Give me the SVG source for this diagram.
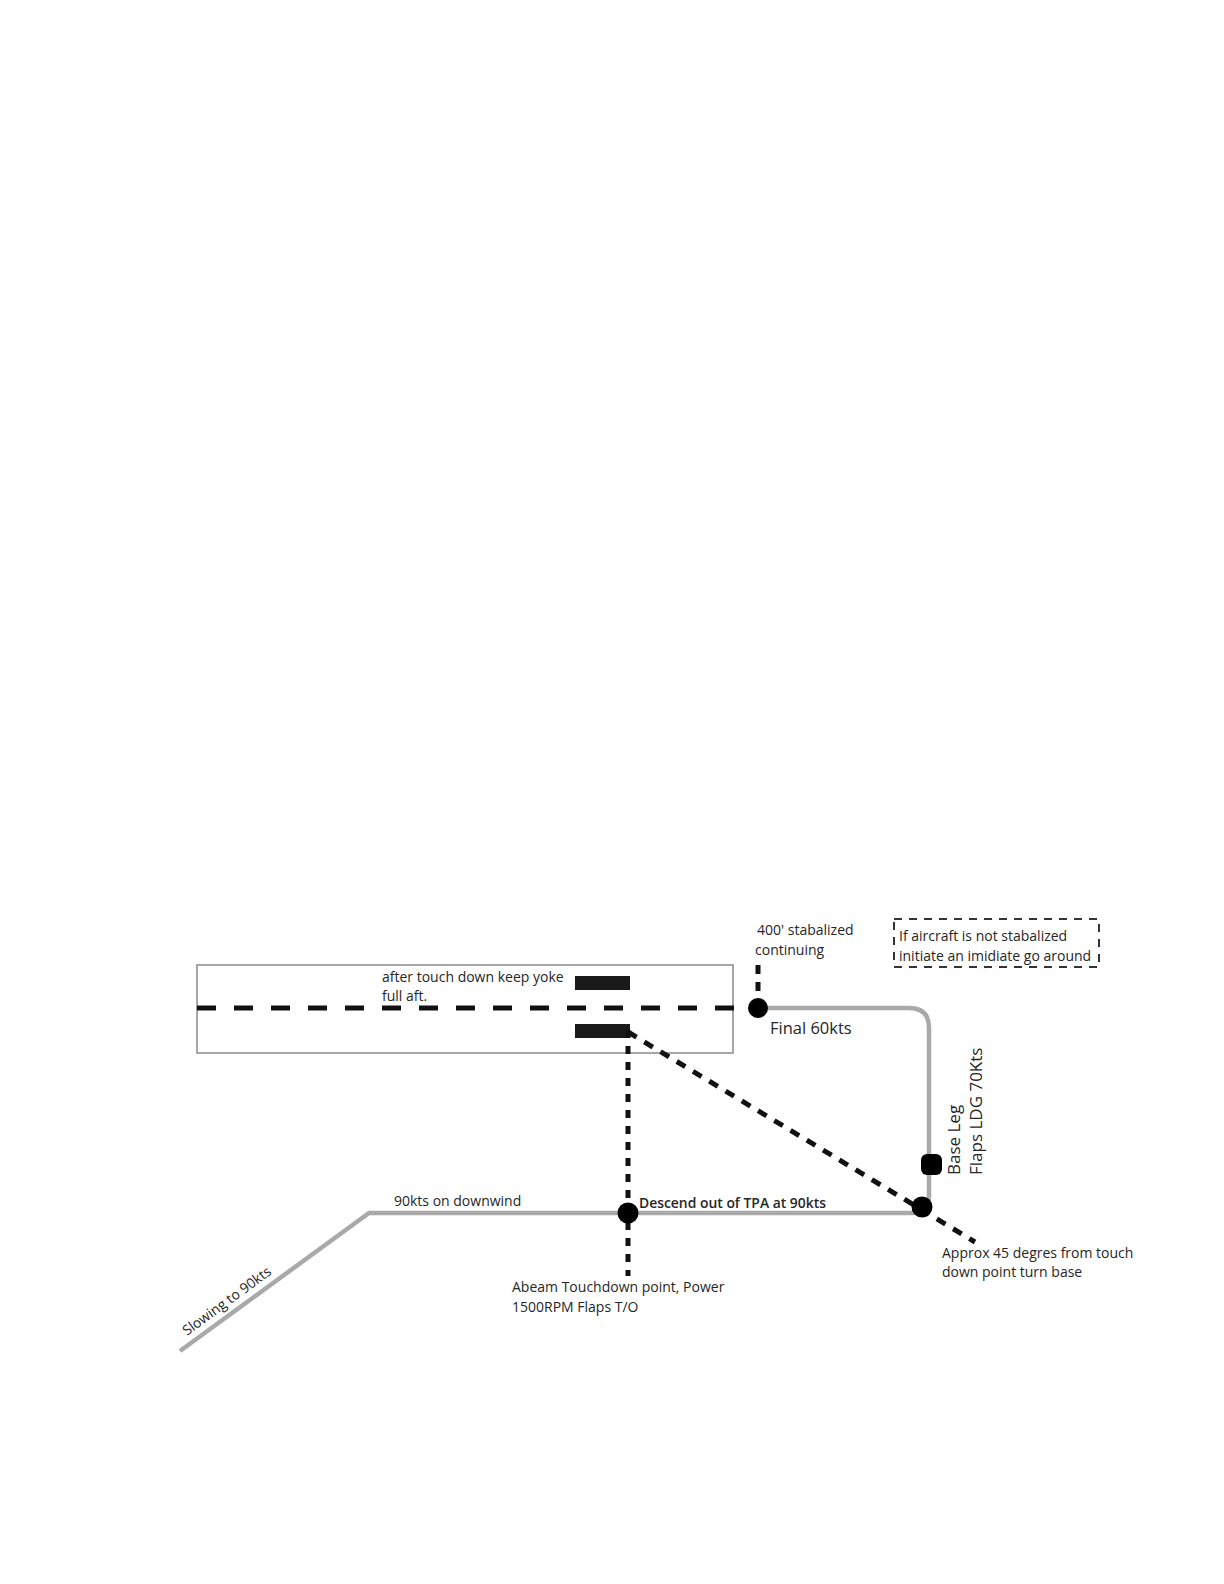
<svg xmlns="http://www.w3.org/2000/svg" width="1224" height="1584" viewBox="0 0 1224 1584">
<style>
text{font-family:"Open Sans","Liberation Sans",sans-serif;fill:#262626;font-size:14px}
.big{font-size:16.5px}
.grey{fill:none;stroke:#a9a9a9;stroke-width:4.5;stroke-linejoin:round}
.dash{fill:none;stroke:#111;stroke-width:5}
.dot{fill:#000}
</style>
<rect width="1224" height="1584" fill="#fff"/>
<g id="runway">
<rect x="197" y="965" width="536" height="88" fill="none" stroke="#8a8a8a" stroke-width="1.5"/>
<rect x="575" y="976" width="55" height="14" fill="#1a1a1a"/>
<rect x="575" y="1024" width="55" height="14" fill="#1a1a1a"/>
<text x="382" y="982">after touch down keep yoke</text>
<text x="382" y="1001">full aft.</text>
</g>
<g id="connectors">
<path class="grey" d="M180 1351 L369 1213 L912 1213 Q929 1213 929 1196 L929 1028 Q929 1008 909 1008 L758 1008"/>
<line class="dash" x1="197" y1="1008" x2="756" y2="1008" stroke-dasharray="19 18"/>
<line class="dash" x1="758" y1="1008" x2="758" y2="962" stroke-width="5" stroke-dasharray="9 8"/>
<line class="dash" x1="628" y1="1030" x2="628" y2="1276" stroke-width="5.5" stroke-dasharray="8 8"/>
<line class="dash" x1="628" y1="1032" x2="975" y2="1242" stroke-width="5.5" stroke-dasharray="10 9"/>
</g>
<g id="final">
<circle class="dot" cx="758" cy="1008" r="10"/>
<text x="757" y="935">400' stabalized</text>
<text x="755" y="955">continuing</text>
<text class="big" x="770" y="1034">Final 60kts</text>
</g>
<g id="goaround-note">
<rect x="894" y="919" width="205" height="48" fill="none" stroke="#333" stroke-width="2" stroke-dasharray="8 7"/>
<text x="899" y="941">If  aircraft is not stabalized</text>
<text x="899" y="961">initiate an imidiate go around</text>
</g>
<g id="base">
<rect x="921" y="1154" width="21" height="21" rx="6" class="dot"/>
<text class="big" transform="translate(960 1175) rotate(-90)" style="font-size:17px">Base Leg</text>
<text class="big" transform="translate(982 1175) rotate(-90)" style="font-size:17px">Flaps LDG 70Kts</text>
</g>
<g id="turn-base">
<circle class="dot" cx="922" cy="1207" r="10.5"/>
<text x="942" y="1258">Approx 45 degres from touch</text>
<text x="942" y="1277">down point turn base</text>
</g>
<g id="abeam">
<circle class="dot" cx="628" cy="1213" r="10.5"/>
<text x="639" y="1208" style="font-size:15px;font-weight:600" textLength="187" lengthAdjust="spacingAndGlyphs">Descend out of TPA at 90kts</text>
<text x="512" y="1292">Abeam Touchdown point, Power</text>
<text x="512" y="1312">1500RPM  Flaps T/O</text>
</g>
<g id="downwind">
<text x="394" y="1206">90kts on downwind</text>
<text transform="translate(187 1336) rotate(-36.2)">Slowing to 90kts</text>
</g>
</svg>
